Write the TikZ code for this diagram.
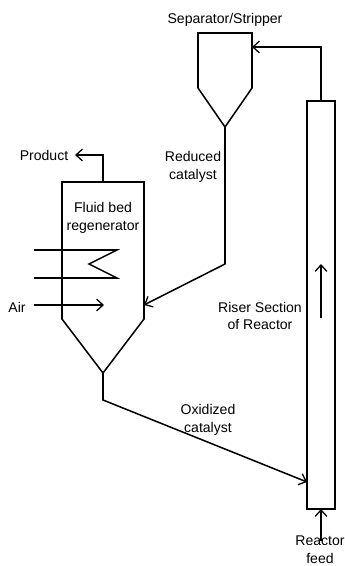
\documentclass[tikz,border=0pt]{standalone}
\usepackage{fontspec}
\setmainfont{Liberation Sans}
\usetikzlibrary{arrows.meta}
\tikzset{
	pipe/.style={line width=1.3pt,line join=miter},
	flow/.style={pipe,-{Straight Barb[length=5.5pt,width=10pt,line width=1.1pt]}},
	lbl/.style={font=\fontsize{12}{15}\selectfont,align=center,inner sep=0pt}
}

\begin{document}
\begin{tikzpicture}[x=0.03cm,y=-0.03cm]
	\useasboundingbox (0, 0) rectangle (345, 566);
	%%%%% START %%%%%
	% regenerator
	\coordinate (regenTop) at (103, 182);
	\coordinate (regenFeed) at (144, 305);
	\coordinate (regenApex) at (103, 373);
	\draw[pipe] (62, 182) -- (144, 182) -- (144, 319) -- (regenApex) -- (62, 319) -- cycle;
	\draw[pipe] (34, 250) -- (117, 250) -- (89, 264) -- (117, 278) -- (34, 278);

	% separator
	\coordinate (sepInlet) at (252, 47);
	\coordinate (sepApex) at (225, 127);
	\draw[pipe] (198, 33) -- (252, 33) -- (252, 88) -- (sepApex) -- (198, 88) -- cycle;

	% riser
	\coordinate (riserTop) at (321, 101);
	\coordinate (riserBottom) at (321, 509);
	\coordinate (riserSide) at (307, 482);
	\draw[pipe] (307, 101) rectangle (335, 509);

	% labels
	\node[lbl] (sepLabel) at (225, 20) {Separator/Stripper};
	\node[lbl] (productLabel) at (44, 155) {Product};
	\node[lbl] (reducedLabel) at (193, 167) {Reduced\\catalyst};
	\node[lbl] (regenLabel) at (103, 218) {Fluid bed\\regenerator};
	\node[lbl] (airLabel) at (17, 307) {Air};
	\node[lbl] (riserLabel) at (260, 316) {Riser Section\\of Reactor};
	\node[lbl] (oxidizedLabel) at (208, 420) {Oxidized\\catalyst};
	\node[lbl] (feedLabel) at (320, 550) {Reactor\\feed};

	% flows
	\coordinate (productEnd) at (75, 155);
	\draw[flow] (regenTop) -- (103, 155) -- (productEnd);
	\draw[flow] (34, 305) -- (104, 305);
	\draw[flow] (sepApex) -- (225, 264) -- (regenFeed);
	\draw[flow] (regenApex) -- (103, 400) -- (riserSide);
	\draw[flow] (riserTop) -- (321, 47) -- (sepInlet);
	\draw[flow] (321, 318) -- (321, 264);
	\draw[flow] (321, 541) -- (riserBottom);
	%%%%% END %%%%%
\end{tikzpicture}
\end{document}
